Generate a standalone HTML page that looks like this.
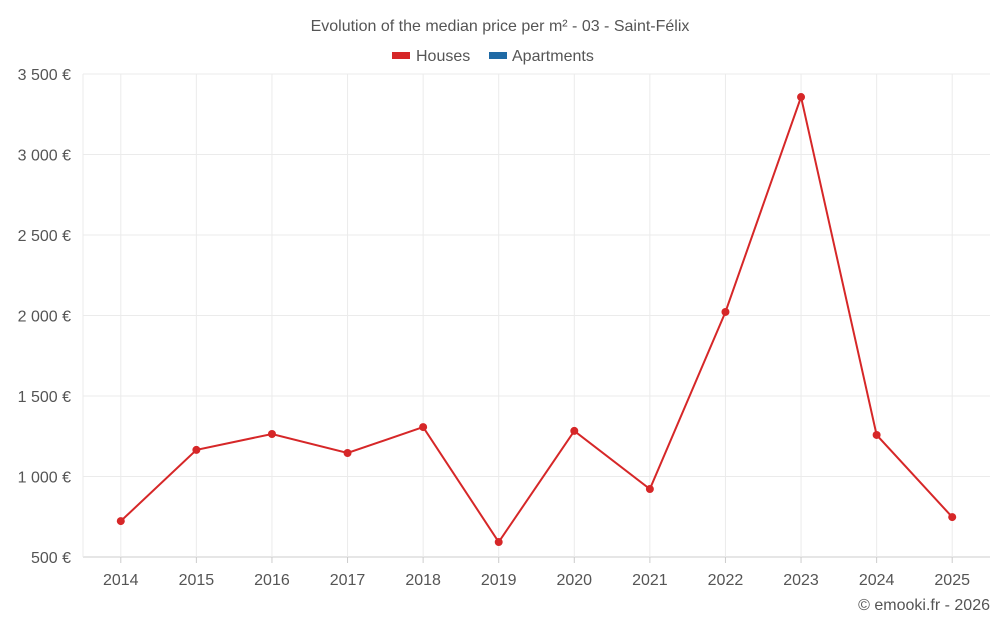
<!DOCTYPE html>
<html><head><meta charset="utf-8"><style>
body{margin:0;background:#fff;font-family:"Liberation Sans",sans-serif}
svg text{font-family:"Liberation Sans",sans-serif}
</style></head><body>
<svg id="chart" width="1000" height="625">
<text x="500" y="31" text-anchor="middle" font-size="16" fill="#555">Evolution of the median price per m² - 03 - Saint-Félix</text>
<g>
<g><rect x="392" y="52" width="18" height="7" fill="#d62728"/><text x="416" y="61" font-size="16" fill="#555">Houses</text></g>
<g><rect x="489" y="52" width="18" height="7" fill="#1f6aa5"/><text x="512" y="61" font-size="16" fill="#555">Apartments</text></g>
</g>
<g id="grid"></g><g id="axes"></g><g id="series"></g>
<text x="990" y="610" text-anchor="end" font-size="16" fill="#555">© emooki.fr - 2026</text>
</svg>
<script>
const years=["2014","2015","2016","2017","2018","2019","2020","2021","2022","2023","2024","2025"];
const houses=[723,1165,1264,1146,1307,593,1283,922,2022,3357,1258,748];
const yTicks=[500,1000,1500,2000,2500,3000,3500];
const yLabels=["500 €","1 000 €","1 500 €","2 000 €","2 500 €","3 000 €","3 500 €"];
const L=83,R=990,T=74,B=557,ns="http://www.w3.org/2000/svg";
const bw=(R-L)/years.length;
const x=i=>L+bw*(i+0.5);
const y=v=>B-(v-500)/3000*(B-T);
function mk(tag,a,p){const e=document.createElementNS(ns,tag);for(const k in a)e.setAttribute(k,a[k]);p.appendChild(e);return e;}
const g=document.getElementById('grid'),ax=document.getElementById('axes'),s=document.getElementById('series');
yTicks.forEach((v,i)=>{
 const l=mk('line',{x1:L,x2:R,y1:y(v),y2:y(v),stroke:i==0?'#ccc':'#ebebeb'},g);
 
 
 const t=mk('text',{x:71,y:y(v)+6,'text-anchor':'end','font-size':16,fill:'#555'},ax);
 t.textContent=yLabels[i];
 
 
});
mk('line',{x1:L,x2:L,y1:T,y2:B,stroke:'#ebebeb'},g);
years.forEach((yr,i)=>{
 const l=mk('line',{x1:x(i),x2:x(i),y1:T,y2:B,stroke:'#ebebeb'},g);
 
 
 const tk=mk('line',{x1:x(i),x2:x(i),y1:B,y2:B+6,stroke:'#ccc'},ax);
 
 
 const t=mk('text',{x:x(i),y:B+28,'text-anchor':'middle','font-size':16,fill:'#555'},ax);
 t.textContent=yr;
 
 
});
const p=mk('polyline',{points:houses.map((v,i)=>x(i)+','+y(v)).join(' '),fill:'none',stroke:'#d62728','stroke-width':2},s);


houses.forEach((v,i)=>{
 const c=mk('circle',{cx:x(i),cy:y(v),r:4,fill:'#d62728'},s);
 
 
});
</script>
</body></html>
